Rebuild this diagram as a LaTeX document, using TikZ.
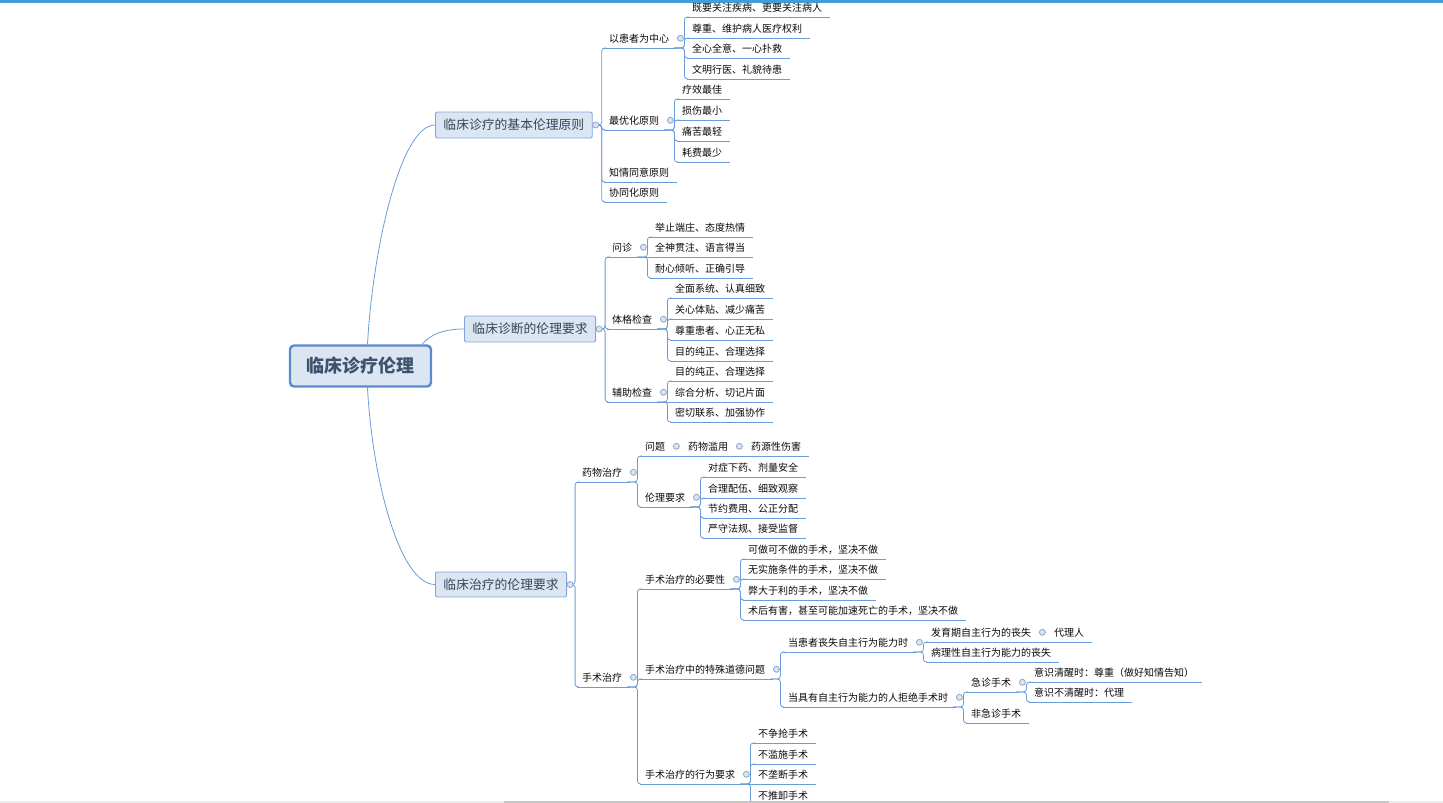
\documentclass[tikz,border=0pt]{standalone}
\usepackage{fontspec}
\setmainfont{Noto Sans CJK SC}
\usetikzlibrary{backgrounds}
\definecolor{linkblue}{HTML}{6A9BDB}
\definecolor{boxfill}{HTML}{DCE6F2}
\definecolor{boxline}{HTML}{7FA6DA}
\definecolor{rootline}{HTML}{5A8BD0}
\definecolor{boxtext}{HTML}{34445A}
\definecolor{roottext}{HTML}{3E5270}
\definecolor{leaftext}{HTML}{0A0A0A}
\definecolor{knobring}{HTML}{8DA6C8}
\definecolor{knobfill}{HTML}{DCE4F0}
\definecolor{topbar}{HTML}{3FA0D6}
\tikzset{
	link/.style={draw=linkblue, line width=0.8pt, rounded corners=3pt},
	curve/.style={draw=linkblue, line width=0.8pt},
	uline/.style={draw=linkblue, line width=0.8pt},
	topic/.style={anchor=south west, inner xsep=5pt, inner ysep=4.5pt, text height=9.1pt, text depth=0.9pt,
		font=\fontsize{10}{12}\selectfont, text=leaftext,
		append after command={(\tikzlastnode.south west) edge[uline] ([xshift=3pt]\tikzlastnode.south east)}},
	knob/.style={circle, draw=knobring, fill=knobfill, line width=0.8pt, inner sep=0pt, minimum size=6pt},
	mainbox/.style={anchor=west, draw=boxline, fill=boxfill, rounded corners=2pt, line width=0.9pt, inner xsep=8pt,
		inner ysep=0pt, minimum height=26pt, text height=11pt, text depth=1.5pt, font=\fontsize{12.8}{14}\selectfont, text=boxtext},
	rootbox/.style={draw=rootline, fill=boxfill, rounded corners=4pt, line width=2.4pt, minimum width=141pt,
		minimum height=41pt, text height=15.5pt, text depth=2pt, font=\bfseries\fontsize{18}{20}\selectfont, text=roottext}
}
\begin{document}
\begin{tikzpicture}[x=1pt, y=-1pt]
	\useasboundingbox (0,0) rectangle (1443,803);
	\fill[topbar] (0,0) rectangle (1443,2.5);

	\node[rootbox] (R) at (360.5,366) {临床诊疗伦理};
	\node[mainbox] (P) at (435,125) {临床诊疗的基本伦理原则};
	\node[mainbox] (D) at (464,329) {临床诊断的伦理要求};
	\node[mainbox, minimum height=25pt] (T) at (435,584.5) {临床治疗的伦理要求};

	\node[topic] (P1) at (604,48) {以患者为中心};
	\node[topic] (P11) at (687,17) {既要关注疾病、更要关注病人};
	\node[topic] (P12) at (687,38) {尊重、维护病人医疗权利};
	\node[topic] (P13) at (687,58) {全心全意、一心扑救};
	\node[topic] (P14) at (687,79) {文明行医、礼貌待患};
	\node[topic] (P2) at (604,130) {最优化原则};
	\node[topic] (P21) at (677,99) {疗效最佳};
	\node[topic] (P22) at (677,120) {损伤最小};
	\node[topic] (P23) at (677,141) {痛苦最轻};
	\node[topic] (P24) at (677,162) {耗费最少};
	\node[topic] (P3) at (604,182) {知情同意原则};
	\node[topic] (P4) at (604,202) {协同化原则};

	\node[topic] (D1) at (607,257) {问诊};
	\node[topic] (D11) at (650,237) {举止端庄、态度热情};
	\node[topic] (D12) at (650,257) {全神贯注、语言得当};
	\node[topic] (D13) at (650,278) {耐心倾听、正确引导};
	\node[topic] (D2) at (607,329) {体格检查};
	\node[topic] (D21) at (670,298) {全面系统、认真细致};
	\node[topic] (D22) at (670,319) {关心体贴、减少痛苦};
	\node[topic] (D23) at (670,340) {尊重患者、心正无私};
	\node[topic] (D24) at (670,361) {目的纯正、合理选择};
	\node[topic] (D3) at (607,402) {辅助检查};
	\node[topic] (D31) at (670,381) {目的纯正、合理选择};
	\node[topic] (D32) at (670,402) {综合分析、切记片面};
	\node[topic] (D33) at (670,422) {密切联系、加强协作};

	\node[topic] (T1) at (577,482) {药物治疗};
	\node[topic] (T11) at (640,456) {问题};
	\node[topic] (T12) at (683,456) {药物滥用};
	\node[topic] (T13) at (746,456) {药源性伤害};
	\node[topic] (T14) at (640,507) {伦理要求};
	\node[topic] (T141) at (703,477) {对症下药、剂量安全};
	\node[topic] (T142) at (703,498) {合理配伍、细致观察};
	\node[topic] (T143) at (703,518) {节约费用、公正分配};
	\node[topic] (T144) at (703,538) {严守法规、接受监督};
	\node[topic] (T2) at (577,687) {手术治疗};
	\node[topic] (T21) at (640,589) {手术治疗的必要性};
	\node[topic] (T211) at (743,559) {可做可不做的手术，坚决不做};
	\node[topic] (T212) at (743,579) {无实施条件的手术，坚决不做};
	\node[topic] (T213) at (743,600) {弊大于利的手术，坚决不做};
	\node[topic] (T214) at (743,620) {术后有害，甚至可能加速死亡的手术，坚决不做};
	\node[topic] (T22) at (640,679) {手术治疗中的特殊道德问题};
	\node[topic] (T221) at (783,652) {当患者丧失自主行为能力时};
	\node[topic] (T2211) at (926,642) {发育期自主行为的丧失};
	\node[topic] (T2212) at (1049,642) {代理人};
	\node[topic] (T2213) at (926,662) {病理性自主行为能力的丧失};
	\node[topic] (T222) at (783,707) {当具有自主行为能力的人拒绝手术时};
	\node[topic] (T2221) at (966,692) {急诊手术};
	\node[topic] (T2222) at (1029,682) {意识清醒时：尊重（做好知情告知）};
	\node[topic] (T2223) at (1029,702) {意识不清醒时：代理};
	\node[topic] (T2224) at (966,723) {非急诊手术};
	\node[topic] (T23) at (640,784) {手术治疗的行为要求};
	\node[topic] (T231) at (753,743) {不争抢手术};
	\node[topic] (T232) at (753,764) {不滥施手术};
	\node[topic] (T233) at (753,784) {不垄断手术};
	\node[topic] (T234) at (753,805) {不推卸手术};

	\begin{scope}[on background layer]
		\draw[curve] ([xshift=7pt]R.north) .. controls +(5,-93) and +(-35,0) .. (P.west);
		\draw[curve] ([xshift=-10pt]R.north east) .. controls +(8,-10) and +(-20,0) .. (D.west);
		\draw[curve] ([xshift=7pt]R.south) .. controls +(5,93) and +(-35,0) .. (T.west);

		\foreach \c in {P1,P2,P3,P4} \draw[link] (P.east) -- ++(9,0) |- (\c.south west);
		\foreach \c in {D1,D2,D3} \draw[link] (D.east) -- ++(9,0) |- (\c.south west);
		\foreach \c in {T1,T2} \draw[link] (T.east) -- ++(8,0) |- (\c.south west);

		\foreach \c in {P11,P12,P13,P14} \draw[link] (P1.south east) -- ++(10,0) |- (\c.south west);
		\foreach \c in {P21,P22,P23,P24} \draw[link] (P2.south east) -- ++(10,0) |- (\c.south west);
		\foreach \c in {D11,D13} \draw[link] (D1.south east) -- ++(10,0) |- (\c.south west);
		\draw[link] (D1.south east) -- (D12.south west);
		\foreach \c in {D21,D22,D23,D24} \draw[link] (D2.south east) -- ++(10,0) |- (\c.south west);
		\foreach \c in {D31,D33} \draw[link] (D3.south east) -- ++(10,0) |- (\c.south west);
		\draw[link] (D3.south east) -- (D32.south west);

		\foreach \c in {T11,T14} \draw[link] (T1.south east) -- ++(10,0) |- (\c.south west);
		\draw[link] (T11.south east) -- (T12.south west);
		\draw[link] (T12.south east) -- (T13.south west);
		\foreach \c in {T141,T142,T143,T144} \draw[link] (T14.south east) -- ++(10,0) |- (\c.south west);
		\foreach \c in {T21,T22,T23} \draw[link] (T2.south east) -- ++(10,0) |- (\c.south west);
		\foreach \c in {T211,T212,T213,T214} \draw[link] (T21.south east) -- ++(10,0) |- (\c.south west);
		\foreach \c in {T221,T222} \draw[link] (T22.south east) -- ++(10,0) |- (\c.south west);
		\foreach \c in {T2211,T2213} \draw[link] (T221.south east) -- ++(10,0) |- (\c.south west);
		\draw[link] (T2211.south east) -- (T2212.south west);
		\foreach \c in {T2221,T2224} \draw[link] (T222.south east) -- ++(10,0) |- (\c.south west);
		\foreach \c in {T2222,T2223} \draw[link] (T2221.south east) -- ++(10,0) |- (\c.south west);
		\foreach \c in {T231,T232,T234} \draw[link] (T23.south east) -- ++(10,0) |- (\c.south west);
		\draw[link] (T23.south east) -- (T233.south west);
	\end{scope}

	\foreach \n in {P,D,T} \node[knob] at ([xshift=3pt]\n.east) {};
	\foreach \n in {P1,P2,D1,D2,D3,T1,T11,T12,T14,T2,T21,T22,T221,T2211,T222,T2221,T23}
		\node[knob] at ([xshift=6pt]\n.east) {};

	\fill[black!7] (0,800.5) rectangle (1443,803);
	\fill[black!22] (504,800.5) rectangle (1389,803);
\end{tikzpicture}
\end{document}
